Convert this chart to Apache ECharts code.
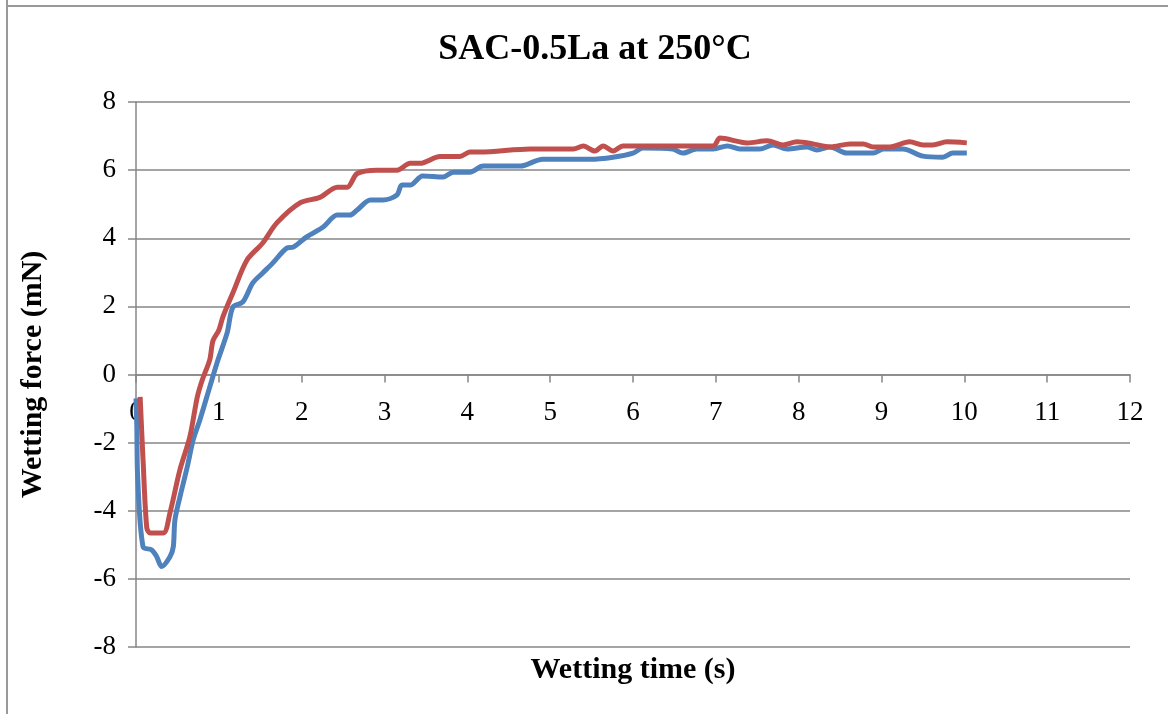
<!DOCTYPE html>
<html>
<head>
<meta charset="utf-8">
<script src="https://cdn.jsdelivr.net/npm/echarts@6/dist/echarts.min.js"></script>
<style>html,body{margin:0;padding:0;background:#fff}#c{width:1168px;height:714px}</style>
</head>
<body>
<div id="c"></div>
<script>
const titleText = "SAC-0.5La at 250°C";
const xName = "Wetting time (s)";
const yName = "Wetting force (mN)";

const blueX = [0.00,0.01,0.02,0.085,0.19,0.25,0.31,0.41,0.45,0.47,0.53,0.62,0.69,0.77,0.89,0.99,1.10,1.17,1.29,1.41,1.53,1.65,1.82,1.90,2.06,2.26,2.43,2.58,2.67,2.83,2.98,3.15,3.21,3.31,3.46,3.71,3.83,4.03,4.19,4.39,4.64,4.91,5.48,5.76,6.00,6.12,6.48,6.60,6.77,6.97,7.14,7.29,7.53,7.69,7.86,8.10,8.22,8.38,8.58,8.90,9.02,9.26,9.50,9.74,9.86,10.03];
const blueY = [-0.7,-1.54,-3.0,-5.06,-5.15,-5.35,-5.64,-5.35,-5.06,-4.27,-3.6,-2.7,-1.92,-1.34,-0.37,0.43,1.22,1.98,2.13,2.69,2.98,3.27,3.71,3.74,4.04,4.33,4.68,4.68,4.83,5.12,5.12,5.27,5.56,5.56,5.83,5.8,5.94,5.94,6.12,6.12,6.12,6.32,6.32,6.38,6.5,6.65,6.62,6.5,6.62,6.62,6.71,6.62,6.62,6.74,6.62,6.68,6.59,6.68,6.5,6.5,6.62,6.62,6.41,6.38,6.5,6.5];

const redX = [0.05,0.085,0.13,0.17,0.33,0.41,0.53,0.65,0.74,0.80,0.89,0.93,1.00,1.05,1.17,1.34,1.53,1.70,1.98,2.22,2.43,2.55,2.67,2.91,3.15,3.31,3.43,3.67,3.91,4.03,4.15,4.76,5.28,5.40,5.54,5.64,5.76,5.88,6.97,7.05,7.38,7.62,7.81,7.98,8.17,8.38,8.62,8.78,8.90,9.10,9.34,9.50,9.62,9.79,10.03];
const redY = [-0.66,-2.5,-4.5,-4.65,-4.65,-4.06,-2.8,-1.83,-0.66,-0.16,0.43,1.0,1.3,1.7,2.4,3.36,3.86,4.45,5.04,5.2,5.5,5.5,5.9,6.0,6.0,6.2,6.2,6.4,6.4,6.53,6.53,6.62,6.62,6.71,6.56,6.71,6.56,6.71,6.71,6.94,6.8,6.86,6.74,6.83,6.77,6.68,6.77,6.77,6.68,6.68,6.83,6.74,6.74,6.83,6.8];

const xTicks = {min:0, max:12, interval:1};
const yTicks = {min:-8, max:8, interval:2};

const zip = (xs, ys) => xs.map((x,i)=>[x, ys[i]]);
const serif = "'Liberation Serif', 'Times New Roman', serif";
const gray = '#868686';

const chart = echarts.init(document.getElementById('c'), null, {renderer:'canvas'});
chart.setOption({
  backgroundColor:'#fff',
  animation:false,
  title:{text:titleText, left:590, top:27, textAlign:'center',
    textStyle:{fontFamily:serif, fontWeight:'bold', fontSize:36, color:'#000'}},
  grid:{left:136, right:38, top:102, bottom:67, containLabel:false, outerBoundsMode:'none'},
  xAxis:{type:'value', min:xTicks.min, max:xTicks.max, interval:xTicks.interval,
    name:xName, nameLocation:'middle', nameGap:8,
    nameTextStyle:{fontFamily:serif, fontWeight:'bold', fontSize:30, color:'#000'},
    axisLine:{onZero:true, onZeroAxisIndex:0, lineStyle:{color:gray, width:1.5}},
    axisTick:{show:true, length:8, lineStyle:{color:gray, width:1.5}},
    axisLabel:{margin:-248, fontFamily:serif, fontSize:27, color:'#000'},
    splitLine:{show:false}},
  yAxis:{type:'value', min:yTicks.min, max:yTicks.max, interval:yTicks.interval,
    name:yName, nameLocation:'middle', nameGap:88, nameRotate:90,
    nameTextStyle:{fontFamily:serif, fontWeight:'bold', fontSize:30, color:'#000'},
    axisLine:{show:true, onZero:false, lineStyle:{color:gray, width:1.5}},
    axisTick:{show:true, length:8, lineStyle:{color:gray, width:1.5}},
    axisLabel:{margin:20, fontFamily:serif, fontSize:27, color:'#000'},
    splitLine:{show:true, lineStyle:{color:gray, width:1.5}}},
  graphic:[
    {type:'line', shape:{x1:7, y1:0, x2:7, y2:714}, style:{stroke:'#999', lineWidth:2}},
    {type:'line', shape:{x1:7, y1:6, x2:1168, y2:6}, style:{stroke:'#999', lineWidth:2}}
  ],
  series:[
    {type:'line', data:zip(blueX, blueY), showSymbol:false, smooth:0.3,
      lineStyle:{color:'#4F81BD', width:5}, itemStyle:{color:'#4F81BD'}},
    {type:'line', data:zip(redX, redY), showSymbol:false, smooth:0.3,
      lineStyle:{color:'#C0504D', width:5}, itemStyle:{color:'#C0504D'}}
  ]
});
</script>
</body>
</html>
